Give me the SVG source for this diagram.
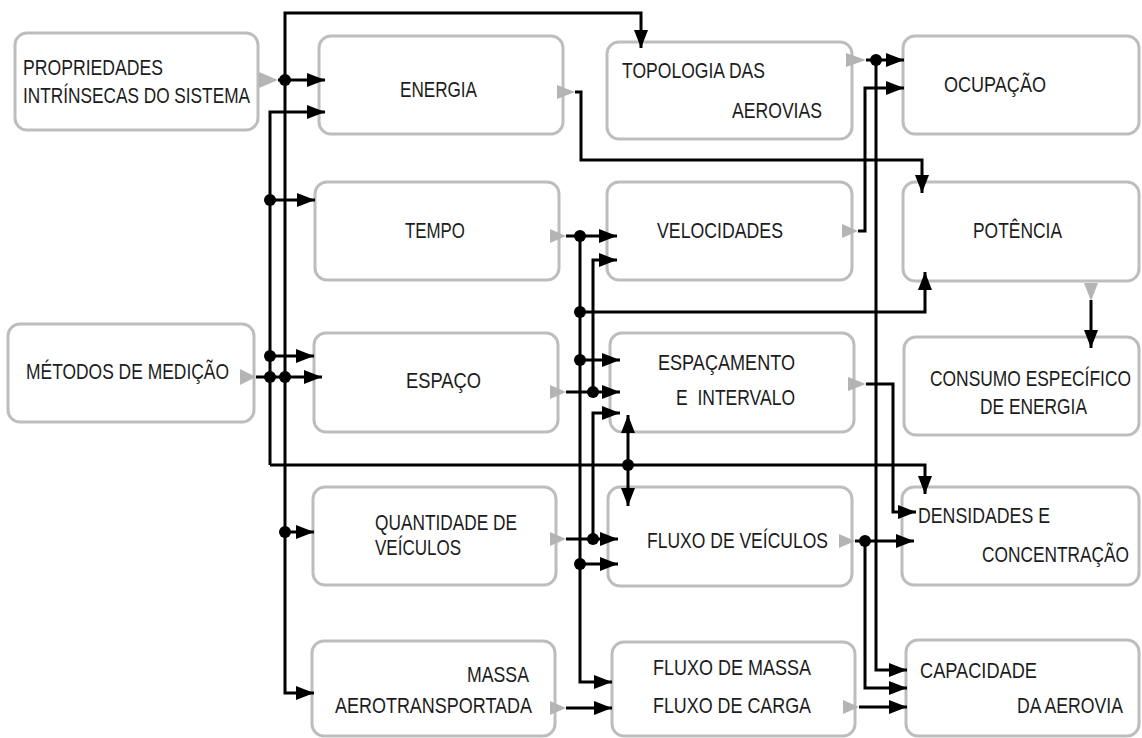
<svg xmlns="http://www.w3.org/2000/svg" width="1142" height="738" viewBox="0 0 1142 738">
<style>
.box{fill:#fff;stroke:#bdbdbd;stroke-width:3}
.t{font-family:"Liberation Sans",Arial,sans-serif;font-size:22.5px;fill:#1c1c1c}
.c{fill:none;stroke:#000;stroke-width:3}
.a{marker-end:url(#ah)}
.d{fill:#000}
.g{fill:#b4b4b4}
</style>
<defs>
<marker id="ah" markerUnits="userSpaceOnUse" markerWidth="20" markerHeight="14" refX="18" refY="7" orient="auto">
<path d="M0,0 L18,7 L0,14 z" fill="#000"/>
</marker>
</defs>
<rect width="1142" height="738" fill="#fff"/>

<g id="n-propriedades"><rect class="box" x="15" y="33" width="243" height="97" rx="12"/>
<text class="t" x="23" y="75" textLength="140" lengthAdjust="spacingAndGlyphs">PROPRIEDADES</text>
<text class="t" x="23" y="103" textLength="227" lengthAdjust="spacingAndGlyphs">INTRÍNSECAS DO SISTEMA</text></g>
<g id="n-energia"><rect class="box" x="319" y="36" width="244" height="98" rx="12"/>
<text class="t" x="400" y="97" textLength="77" lengthAdjust="spacingAndGlyphs">ENERGIA</text></g>
<g id="n-topologia"><rect class="box" x="607" y="42" width="245" height="97" rx="12"/>
<text class="t" x="622" y="78" textLength="143" lengthAdjust="spacingAndGlyphs">TOPOLOGIA DAS</text>
<text class="t" x="732" y="118" textLength="90" lengthAdjust="spacingAndGlyphs">AEROVIAS</text></g>
<g id="n-ocupacao"><rect class="box" x="903" y="36" width="236" height="98" rx="12"/>
<text class="t" x="944" y="92" textLength="102" lengthAdjust="spacingAndGlyphs">OCUPAÇÃO</text></g>
<g id="n-tempo"><rect class="box" x="315" y="182" width="244" height="98" rx="12"/>
<text class="t" x="405" y="238" textLength="60" lengthAdjust="spacingAndGlyphs">TEMPO</text></g>
<g id="n-velocidades"><rect class="box" x="607" y="182" width="245" height="98" rx="12"/>
<text class="t" x="657" y="238" textLength="126" lengthAdjust="spacingAndGlyphs">VELOCIDADES</text></g>
<g id="n-potencia"><rect class="box" x="903" y="182" width="236" height="99" rx="12"/>
<text class="t" x="973" y="238" textLength="89" lengthAdjust="spacingAndGlyphs">POTÊNCIA</text></g>
<g id="n-metodos"><rect class="box" x="8" y="324" width="246" height="98" rx="12"/>
<text class="t" x="26" y="379" textLength="203" lengthAdjust="spacingAndGlyphs">MÉTODOS DE MEDIÇÃO</text></g>
<g id="n-espaco"><rect class="box" x="314" y="333" width="244" height="99" rx="12"/>
<text class="t" x="406" y="388" textLength="75" lengthAdjust="spacingAndGlyphs">ESPAÇO</text></g>
<g id="n-espacamento"><rect class="box" x="610" y="333" width="244" height="99" rx="12"/>
<text class="t" x="658" y="370" textLength="137" lengthAdjust="spacingAndGlyphs">ESPAÇAMENTO</text>
<text class="t" x="676" y="405" textLength="119" lengthAdjust="spacingAndGlyphs" xml:space="preserve">E  INTERVALO</text></g>
<g id="n-consumo"><rect class="box" x="904" y="337" width="235" height="98" rx="12"/>
<text class="t" x="930" y="386" textLength="201" lengthAdjust="spacingAndGlyphs">CONSUMO ESPECÍFICO</text>
<text class="t" x="980" y="414" textLength="107" lengthAdjust="spacingAndGlyphs">DE ENERGIA</text></g>
<g id="n-quantidade"><rect class="box" x="313" y="487" width="243" height="98" rx="12"/>
<text class="t" x="375" y="530" textLength="142" lengthAdjust="spacingAndGlyphs">QUANTIDADE DE</text>
<text class="t" x="375" y="555" textLength="86" lengthAdjust="spacingAndGlyphs">VEÍCULOS</text></g>
<g id="n-fluxoveiculos"><rect class="box" x="608" y="487" width="244" height="99" rx="12"/>
<text class="t" x="647" y="548" textLength="181" lengthAdjust="spacingAndGlyphs">FLUXO DE VEÍCULOS</text></g>
<g id="n-densidades"><rect class="box" x="902" y="487" width="237" height="98" rx="12"/>
<text class="t" x="918" y="523" textLength="132" lengthAdjust="spacingAndGlyphs">DENSIDADES E</text>
<text class="t" x="982" y="562" textLength="147" lengthAdjust="spacingAndGlyphs">CONCENTRAÇÃO</text></g>
<g id="n-massa"><rect class="box" x="312" y="641" width="243" height="95" rx="12"/>
<text class="t" x="467" y="682" textLength="62" lengthAdjust="spacingAndGlyphs">MASSA</text>
<text class="t" x="335" y="713" textLength="197" lengthAdjust="spacingAndGlyphs">AEROTRANSPORTADA</text></g>
<g id="n-fluxomassa"><rect class="box" x="612" y="642" width="243" height="94" rx="12"/>
<text class="t" x="653" y="675" textLength="158" lengthAdjust="spacingAndGlyphs">FLUXO DE MASSA</text>
<text class="t" x="653" y="713" textLength="158" lengthAdjust="spacingAndGlyphs">FLUXO DE CARGA</text></g>
<g id="n-capacidade"><rect class="box" x="906" y="640" width="233" height="96" rx="12"/>
<text class="t" x="920" y="678" textLength="117" lengthAdjust="spacingAndGlyphs">CAPACIDADE</text>
<text class="t" x="1017" y="713" textLength="106" lengthAdjust="spacingAndGlyphs">DA AEROVIA</text></g>

<g id="connectors">
<polygon class="g" points="259,72 278,80 259,88"/>
<polygon class="g" points="557,85 575,92 557,99"/>
<polygon class="g" points="550,229 566,236 550,243"/>
<polygon class="g" points="846,53 866,60 846,67"/>
<polygon class="g" points="842,224 858,231 842,238"/>
<polygon class="g" points="240,369 256,377 240,385"/>
<polygon class="g" points="550,385 566,392 550,399"/>
<polygon class="g" points="848,377 866,384 848,391"/>
<polygon class="g" points="550,532 566,539 550,546"/>
<polygon class="g" points="839,534 855,541 839,548"/>
<polygon class="g" points="550,701 566,708 550,715"/>
<polygon class="g" points="843,700 859,707 843,714"/>
<polygon class="g" points="1084,283 1098,283 1091,301"/>

<path class="c a" d="M278,80 H325"/>
<path class="c a" d="M285,80 V13 H641 V48"/>
<path class="c a" d="M285,80 V693 H314"/>
<path class="c a" d="M285,532 H314"/>
<path class="c a" d="M256,377 H322"/>
<path class="c a" d="M270,465 V112 H325"/>
<path class="c a" d="M270,200 H315"/>
<path class="c a" d="M270,356 H314"/>
<path class="c a" d="M270,465 H925 V494"/>

<path class="c a" d="M566,236 H617"/>
<path class="c a" d="M580,236 V682 H612"/>
<path class="c a" d="M580,312 H925 V272"/>
<path class="c a" d="M580,360 H620"/>
<path class="c a" d="M580,564 H618"/>
<path class="c a" d="M566,392 H620"/>
<path class="c a" d="M593,392 V260 H617"/>
<path class="c a" d="M566,539 H618"/>
<path class="c a" d="M593,539 V413 H620"/>
<path class="c a" d="M566,708 H612"/>
<path class="c a" d="M628,465 V415"/>
<path class="c a" d="M628,465 V506"/>

<path class="c a" d="M866,60 H904"/>
<path class="c a" d="M876,60 V670 H907"/>
<path class="c a" d="M858,231 H865 V88 H904"/>
<path class="c a" d="M575,92 H581 V160 H922 V193"/>
<path class="c a" d="M1091,300 V348"/>
<path class="c a" d="M866,384 H893 V512 H916"/>
<path class="c a" d="M855,541 H914"/>
<path class="c a" d="M865,541 V688 H907"/>
<path class="c a" d="M859,707 H907"/>

<circle class="d" cx="285" cy="80" r="6"/>
<circle class="d" cx="270" cy="200" r="6"/>
<circle class="d" cx="270" cy="356" r="6"/>
<circle class="d" cx="270" cy="377" r="6"/>
<circle class="d" cx="285" cy="377" r="6"/>
<circle class="d" cx="285" cy="532" r="6"/>
<circle class="d" cx="580" cy="236" r="6"/>
<circle class="d" cx="580" cy="312" r="6"/>
<circle class="d" cx="580" cy="360" r="6"/>
<circle class="d" cx="593" cy="392" r="6"/>
<circle class="d" cx="593" cy="539" r="6"/>
<circle class="d" cx="580" cy="564" r="6"/>
<circle class="d" cx="628" cy="465" r="6"/>
<circle class="d" cx="876" cy="60" r="6"/>
<circle class="d" cx="865" cy="541" r="6"/>
</g>
</svg>
